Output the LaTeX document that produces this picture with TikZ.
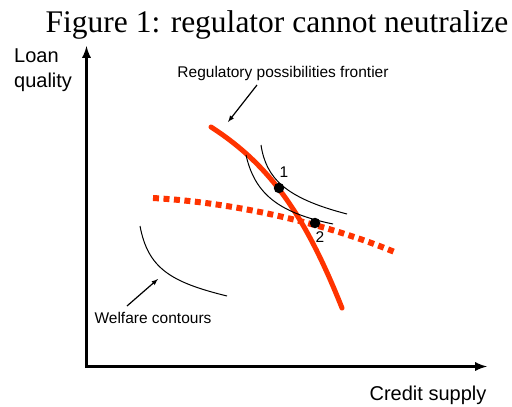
\documentclass[tikz,border=0pt]{standalone}
\usepackage{fontspec}
\setmainfont{Liberation Sans}
\newfontfamily\titlefont{Liberation Serif}
\usetikzlibrary{arrows}

\begin{document}
\begin{tikzpicture}[x=1pt,y=-1pt]
  \useasboundingbox (0,0) rectangle (512,407);
  \tikzstyle{Axis}=[line width=3pt,-latex]
  \tikzstyle{Pointer}=[line width=1.2pt,-latex]
  \tikzstyle{Contour}=[line width=1pt]
  \tikzstyle{Frontier}=[draw={rgb,255:red,255;green,51;blue,0},line width=5pt,line cap=round]
  \tikzstyle{NewFrontier}=[draw={rgb,255:red,255;green,51;blue,0},line width=6pt,dash pattern=on 6pt off 4.5pt]
  \tikzstyle{Dot}=[circle,fill=black,inner sep=0pt,minimum size=10.5pt]
  \tikzstyle{Label}=[font=\fontsize{20}{25}\selectfont,align=left,inner sep=0pt]
  \tikzstyle{Small}=[font=\fontsize{15.5}{18}\selectfont,inner sep=0pt]
  % title
  \node[font=\titlefont\fontsize{31.5}{36}\selectfont,inner sep=0pt,anchor=base]
    (title) at (277,32) {Figure 1: regulator cannot neutralize};
  % axes
  \coordinate (O) at (86.5,366.5);
  \coordinate (Ytip) at (86.5,46);
  \coordinate (Xtip) at (487,366.5);
  \draw[Axis] ([yshift=-1.5pt]O) -- (Ytip);
  \draw[Axis] ([xshift=-1.5pt]O) -- (Xtip);
  \node[Label,anchor=north west] (ylab) at (14,49) {Loan\\quality};
  \node[Label,anchor=base] (xlab) at (428,400) {Credit supply};
  % frontiers
  \draw[NewFrontier] (153,198) .. controls (240,203) and (330,225) .. (397,253);
  \draw[Frontier] (211,127) .. controls (270,165) and (305,215) .. (342,308);
  % welfare contours
  \draw[Contour] (261,145) .. controls (266,178) and (285,198) .. (347,214);
  \draw[Contour] (246,155) .. controls (255,195) and (280,213) .. (333,224);
  \draw[Contour] (140,226) .. controls (148,268) and (170,282) .. (227,296);
  % equilibria
  \node[Dot] (p1) at (279,188) {};
  \node[Dot] (p2) at (315,223) {};
  \node[Small] (l1) at (284,172) {1};
  \node[Small] (l2) at (320,237) {2};
  % labels
  \node[Small] (rpf) at (283,73) {Regulatory possibilities frontier};
  \coordinate (rpfA) at (257,85);
  \coordinate (rpfB) at (228,122);
  \draw[Pointer] (rpfA) -- (rpfB);
  \node[Small] (wc) at (153,318) {Welfare contours};
  \coordinate (wcA) at (127,306);
  \coordinate (wcB) at (158,279);
  \draw[Pointer] (wcA) -- (wcB);
\end{tikzpicture}
\end{document}
